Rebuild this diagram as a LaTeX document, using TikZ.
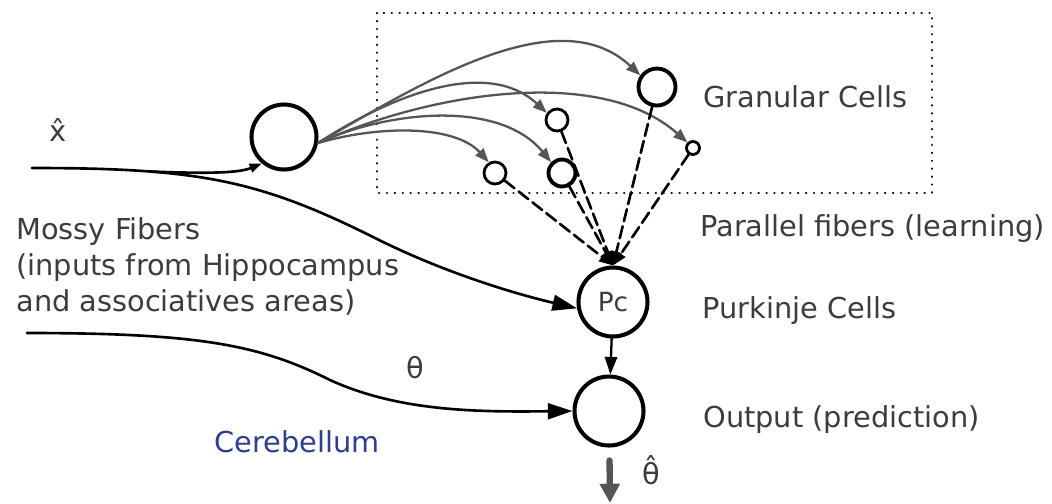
\documentclass[tikz,border=0pt]{standalone}
\usepackage{fontspec}
\setmainfont{DejaVu Sans}
\usetikzlibrary{arrows.meta}
\definecolor{txtgray}{HTML}{3C3C3C}
\definecolor{fangray}{HTML}{555555}
\definecolor{cerblue}{HTML}{2C3E94}
\tikzset{
  cell/.style={circle,draw=black,line width=2.3pt,inner sep=0pt,minimum size=1.38cm},
  grain/.style={circle,draw=black,line width=1.6pt,inner sep=0pt},
  lbl/.style={text=txtgray,inner sep=0pt,anchor=base west},
  fiber/.style={line width=1.5pt,-{Triangle[length=14pt,width=9pt]}},
  sprout/.style={line width=1.3pt,color=fangray,->},
  parallel/.style={line width=1.5pt,dash pattern=on 7pt off 3pt,->}
}
\begin{document}
\begin{tikzpicture}[line cap=round,line join=round,>={Triangle[length=8pt,width=6pt]},x=1.0cm,y=1.0cm,font=\fontsize{16.4}{20.4}\selectfont]
\useasboundingbox (0,0) rectangle (21.04,-10.06);
% granular layer
\draw [line width=1.2pt,dash pattern=on 0.2pt off 4.3pt] (7.54,-0.26) rectangle (18.64,-3.86);
\node [cell,minimum size=1.3cm] (mf) at (5.68,-2.74) {};
\node [grain,line width=2.2pt,minimum size=0.74cm] (g1) at (13.14,-1.74) {};
\node [grain,minimum size=0.44cm] (g2) at (11.14,-2.40) {};
\node [grain,line width=2.2pt,minimum size=0.54cm] (g3) at (11.24,-3.46) {};
\node [grain,minimum size=0.44cm] (g4) at (9.90,-3.46) {};
\node [grain,minimum size=0.26cm] (g5) at (13.86,-2.96) {};
% purkinje and output
\node [cell,text=txtgray,font=\fontsize{15}{18}\selectfont] (pc) at (12.26,-6.04) {Pc};
\node [cell] (out) at (12.18,-8.22) {};
\coordinate (mfin) at (0.64,-3.36);
\coordinate (split) at (3.00,-3.43);
\coordinate (thin) at (0.54,-6.66);
\coordinate (thetaout) at (12.20,-10.06);
% mossy fibers
\draw [fiber] (mfin) .. controls (4.0,-3.36) and (5.2,-3.6) .. (7.58,-4.8) .. controls (9.0,-5.5) and (10.4,-5.9) .. (pc.190);
\draw [fiber,-{Triangle[length=7pt,width=5pt]}] (split) .. controls (4.3,-3.48) and (4.8,-3.45) .. (mf.230);
\draw [fiber] (thin) .. controls (4.0,-6.66) and (5.2,-6.9) .. (6.6,-7.6) .. controls (8.0,-8.24) and (9.6,-8.24) .. (out.west);
% granule sprouts
\draw [sprout] (mf.-10) .. controls (7.6,-2.5) and (9.1,-2.5) .. (g4.120);
\draw [sprout] (mf.-10) .. controls (7.8,-2.2) and (10.0,-2.0) .. (g3.135);
\draw [sprout] (mf.-10) .. controls (8.0,-1.8) and (9.8,-1.2) .. (g2.145);
\draw [sprout] (mf.-10) .. controls (8.6,-1.85) and (12.0,-1.3) .. (g5.135);
\draw [sprout] (mf.-10) .. controls (8.6,-1.55) and (11.2,0.0) .. (g1.145);
% parallel fibers
\foreach \g in {g1,g2,g3,g4,g5}
  \draw [parallel] (\g) -- (pc.north);
\draw [line width=1.3pt,-{Triangle[length=10pt,width=7pt]}] (pc) -- (out);
\draw [line width=3.6pt,color=fangray,-{Triangle[length=11pt,width=11pt]},shorten <=0.26cm] (out) -- (thetaout);
% labels
\node [text=txtgray] (xhat) at (1.16,-2.6) {\^{x}};
\node [text=txtgray] (theta) at (8.30,-7.36) {θ};
\node [text=txtgray] (thetahat) at (13.02,-9.40) {\^{θ}};
\node [text=cerblue] (cereb) at (5.94,-8.84) {Cerebellum};
\node [text=txtgray,inner sep=0pt,anchor=north west,align=left] (mossy) at (0.32,-4.35) {Mossy Fibers\\(inputs from Hippocampus\\and associatives areas)};
\node [lbl] (gran) at (14.06,-2.14) {Granular Cells};
\node [lbl] (par) at (14.0,-4.73) {Parallel fibers (learning)};
\node [lbl] (purk) at (14.04,-6.36) {Purkinje Cells};
\node [lbl] (outp) at (14.06,-8.54) {Output (prediction)};
\end{tikzpicture}
\end{document}
